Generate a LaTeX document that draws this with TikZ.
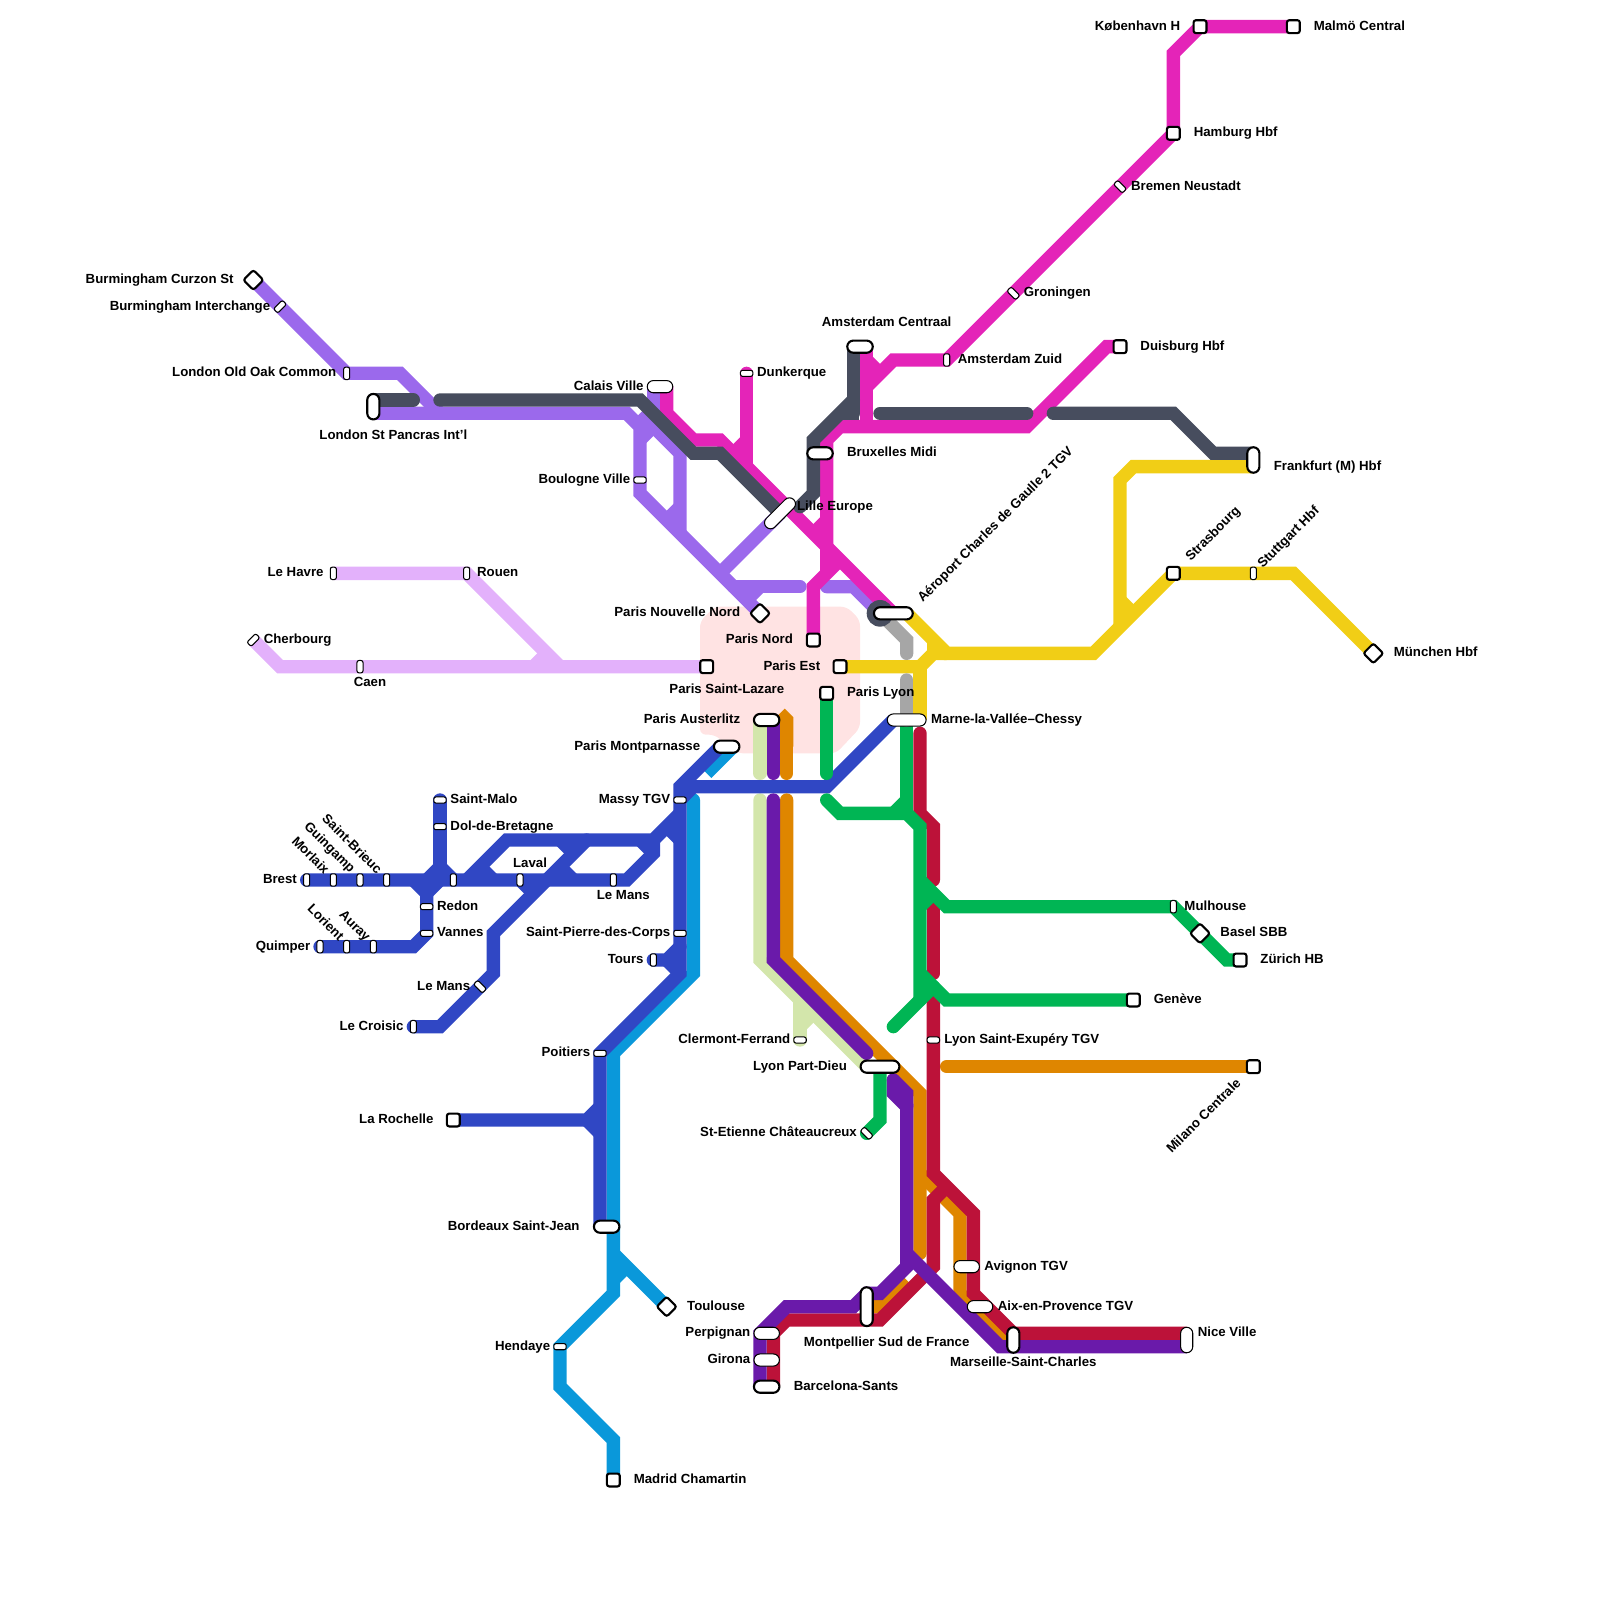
\documentclass[tikz,border=0pt]{standalone}
\usepackage{fontspec}
\setmainfont{Liberation Sans}
\usetikzlibrary{positioning}
\definecolor{trkmagenta}{HTML}{E424B8}
\definecolor{trkpurple}{HTML}{9B69EC}
\definecolor{trkslate}{HTML}{474D5E}
\definecolor{trkyellow}{HTML}{F1CE16}
\definecolor{trkgrey}{HTML}{A6A6A6}
\definecolor{trkgreen}{HTML}{00B554}
\definecolor{trkcrimson}{HTML}{BC1239}
\definecolor{trkviolet}{HTML}{6A1AAA}
\definecolor{trkorange}{HTML}{DF8600}
\definecolor{trkpale}{HTML}{D3E6AB}
\definecolor{trkblue}{HTML}{3047C4}
\definecolor{trksky}{HTML}{0A98DA}
\definecolor{trklilac}{HTML}{E3B1FB}
\definecolor{parisfill}{HTML}{FFE3E3}
\pgfdeclarelayer{tracks}
\pgfsetlayers{tracks,main}
\tikzset{
  stn/.style={rectangle, draw=black, fill=white, inner sep=0pt},
  thk/.style={line width=.9pt},
  thn/.style={line width=.45pt},
  sq/.style={stn, thk, minimum size=5.5pt, rounded corners=1pt},
  diam/.style={sq, minimum size=6pt, rotate=45},
  tickh/.style={stn, thn, minimum width=5.3pt, minimum height=2.6pt, rounded corners=.9pt},
  tickv/.style={stn, thn, minimum width=2.6pt, minimum height=5.3pt, rounded corners=.9pt},
  pill/.style 2 args={stn, minimum width=#1*5.69pt-.5pt, minimum height=#2*5.69pt-.5pt, rounded corners=2.6pt},
  lbl/.style={inner sep=0pt, text height=4.1pt, text depth=1.1pt, font=\fontsize{5.65}{6}\selectfont\bfseries},
  lblr/.style={lbl, anchor=west},
  lbll/.style={lbl, anchor=east},
  lblc/.style={lbl, anchor=center},
  track/.style={line width=5.69pt, line join=miter},
  mg/.style={track, draw=trkmagenta},
  pu/.style={track, draw=trkpurple},
  sl/.style={track, draw=trkslate},
  ye/.style={track, draw=trkyellow},
  gy/.style={track, draw=trkgrey, line cap=round},
  gn/.style={track, draw=trkgreen},
  cr/.style={track, draw=trkcrimson},
  vi/.style={track, draw=trkviolet},
  og/.style={track, draw=trkorange},
  pa/.style={track, draw=trkpale},
  bl/.style={track, draw=trkblue},
  sk/.style={track, draw=trksky},
  li/.style={track, draw=trklilac},
}
\begin{document}
\begin{tikzpicture}[x=.2cm, y=-.2cm]
\useasboundingbox (0,0) rectangle (120,120);
% north
\node[sq] (kobenhavn) at (90,2) {}; \node[lbll] (kobenhavnt) at (88.55,2) {København H};
\node[sq] (malmo) at (97,2) {}; \node[lblr] (malmot) at (98.5,2) {Malmö Central};
\node[sq] (hamburg) at (88,10) {}; \node[lblr] (hamburgt) at (89.5,10) {Hamburg Hbf};
\node[tickh, rotate=-45] (bremen) at (84,14) {}; \node[lblr] (bremend) at (84.8,14) {Bremen Neustadt};
\node[tickh, rotate=-45] (groningen) at (76,22) {}; \node[lblr] (groningent) at (76.75,22) {Groningen};
\node[tickv] (amszuid) at (71,27) {}; \node[lblr] (amszuidt) at (71.8,27) {Amsterdam Zuid};
\node[pill={2}{1}, thk] (amscentraal) at (64.5,26) {}; \node[lblc] (amscentraalt) at (66.5,24.25) {Amsterdam Centraal};
\node[sq] (duisburg) at (84,26) {}; \node[lblr] (duisburgt) at (85.5,26) {Duisburg Hbf};
\node[pill={1}{2}, thk] (frankfurt) at (94,34.5) {}; \node[lblr] (frankfurtt) at (95.5,35) {Frankfurt (M) Hbf};
\node[pill={2}{1}, thk] (bruxelles) at (61.5,34) {}; \node[lblr] (bruxellest) at (63.5,34) {Bruxelles Midi};
\node[pill={3}{1}, thn, rotate=45] (lille) at (58.5,38.5) {}; \node[lblr] (lillet) at (59.75,38) {Lille Europe};
\node[tickh] (dunkerque) at (56,28) {}; \node[lblr] (dunkerquet) at (56.75,28) {Dunkerque};
\node[pill={2}{1}, thn] (calais) at (49.5,29) {}; \node[lbll] (calaist) at (48.3,29) {Calais Ville};
\node[tickh] (boulogne) at (48,36) {}; \node[lbll] (boulognet) at (47.3,36) {Boulogne Ville};
% britain
\node[pill={1}{2}, thk] (stpancras) at (28,30.5) {}; \node[lblc] (stpancrast) at (29.5,32.7) {London St Pancras Int'l};
\node[tickv] (oldoak) at (26,28) {}; \node[lbll] (oldoakt) at (25.25,28) {London Old Oak Common};
\node[tickh, rotate=45] (interchange) at (21,23) {}; \node[lbll] (interchanget) at (20.3,23) {Burmingham Interchange};
\node[diam] (curzon) at (19,21) {}; \node[lbll] (curzont) at (17.55,21) {Burmingham Curzon St};
% normandy
\node[tickv] (lehavre) at (25,43) {}; \node[lbll] (lehavret) at (24.3,43) {Le Havre};
\node[tickv] (rouen) at (35,43) {}; \node[lblr] (rouent) at (35.75,43) {Rouen};
\node[tickh, rotate=45] (cherbourg) at (19,48) {}; \node[lblr] (cherbourgt) at (19.75,48) {Cherbourg};
\node[tickv] (caen) at (27,50) {}; \node[lblc] (caent) at (27.75,51.25) {Caen};
% paris
\node[sq] (lazare) at (53,50) {}; \node[lbll] (lazaret) at (58.85,51.75) {Paris Saint-Lazare};
\node[diam] (nouvellenord) at (57,46) {}; \node[lbll] (nouvellenordt) at (55.55,46) {Paris Nouvelle Nord};
\node[sq] (parisnord) at (61,48) {}; \node[lbll] (parisnordt) at (59.5,48) {Paris Nord};
\node[sq] (parisest) at (63,50) {}; \node[lbll] (parisestt) at (61.55,50) {Paris Est};
\node[sq] (parislyon) at (62,52) {}; \node[lblr] (parislyont) at (63.5,52) {Paris Lyon};
\node[pill={3}{1}, thk] (cdg) at (67,46) {}; \node[lblr, rotate=45] (cdgt) at (69,45.05) {Aéroport Charles de Gaulle 2 TGV};
\node[pill={3}{1}, thn] (marne) at (68,54) {}; \node[lblr] (marnet) at (69.8,54) {Marne-la-Vallée–Chessy};
\node[pill={2}{1}, thk] (austerlitz) at (57.5,54) {}; \node[lbll] (austerlitzt) at (55.55,54) {Paris Austerlitz};
\node[pill={2}{1}, thk] (montparnasse) at (54.5,56) {}; \node[lbll] (montparnasset) at (52.55,56) {Paris Montparnasse};
% west
\node[tickh] (massy) at (51,60) {}; \node[lbll] (massyt) at (50.3,60) {Massy TGV};
\node[tickh] (stpierre) at (51,70) {}; \node[lbll] (stpierret) at (50.3,70) {Saint-Pierre-des-Corps};
\node[tickv] (tours) at (49,72) {}; \node[lbll] (tourst) at (48.3,72) {Tours};
\node[tickh] (poitiers) at (45,79) {}; \node[lbll] (poitierst) at (44.3,79) {Poitiers};
\node[sq] (rochelle) at (34,84) {}; \node[lbll] (rochellet) at (32.55,84) {La Rochelle};
\node[pill={2}{1}, thk] (bordeaux) at (45.5,92) {}; \node[lbll] (bordeauxt) at (43.5,92) {Bordeaux Saint-Jean};
\node[diam] (toulouse) at (50,98) {}; \node[lblr] (toulouset) at (51.5,98) {Toulouse};
\node[tickh] (hendaye) at (42,101) {}; \node[lbll] (hendayet) at (41.3,101) {Hendaye};
\node[sq] (madrid) at (46,111) {}; \node[lblr] (madridt) at (47.5,111) {Madrid Chamartin};
% brittany
\node[tickv] (brest) at (23,66) {}; \node[lbll] (brestt) at (22.3,66) {Brest};
\node[tickv] (morlaix) at (25,66) {}; \node[lbll, rotate=-45] (morlaixt) at (24.5,65.45) {Morlaix};
\node[tickv] (guingamp) at (27,66) {}; \node[lbll, rotate=-45] (guingampt) at (26.45,65.35) {Guingamp};
\node[tickv] (stbrieuc) at (29,66) {}; \node[lbll, rotate=-45] (stbrieuct) at (28.45,65.45) {Saint-Brieuc};
\node[tickv] (stopwest) at (34,66) {};
\node[tickv] (laval) at (39,66) {}; \node[lblc] (lavalt) at (39.75,64.8) {Laval};
\node[tickv] (lemans) at (46,66) {}; \node[lblc] (lemanst) at (46.75,67.2) {Le Mans};
\node[tickh] (stmalo) at (33,60) {}; \node[lblr] (stmalot) at (33.75,60) {Saint-Malo};
\node[tickh] (dol) at (33,62) {}; \node[lblr] (dolt) at (33.75,62) {Dol-de-Bretagne};
\node[tickh] (redon) at (32,68) {}; \node[lblr] (redont) at (32.75,68) {Redon};
\node[tickh] (vannes) at (32,70) {}; \node[lblr] (vannest) at (32.75,70) {Vannes};
\node[tickv] (quimper) at (24,71) {}; \node[lbll] (quimpert) at (23.3,71) {Quimper};
\node[tickv] (lorient) at (26,71) {}; \node[lbll, rotate=-45] (lorientt) at (25.6,70.45) {Lorient};
\node[tickv] (auray) at (28,71) {}; \node[lbll, rotate=-45] (aurayt) at (27.6,70.5) {Auray};
\node[tickh, rotate=-45] (lemanssud) at (36,74) {}; \node[lbll] (lemanssudt) at (35.3,74) {Le Mans};
\node[tickv] (croisic) at (31,77) {}; \node[lbll] (croisict) at (30.3,77) {Le Croisic};
% east
\node[sq] (strasbourg) at (88,43) {}; \node[lblr, rotate=45] (strasbourgt) at (89.1,41.95) {Strasbourg};
\node[tickv] (stuttgart) at (94,43) {}; \node[lblr, rotate=45] (stuttgartt) at (94.5,42.5) {Stuttgart Hbf};
\node[diam] (munchen) at (103,49) {}; \node[lblr] (muncheng) at (104.5,49) {München Hbf};
\node[tickv] (mulhouse) at (88,68) {}; \node[lblr] (mulhouset) at (88.8,68) {Mulhouse};
\node[diam] (basel) at (90,70) {}; \node[lblr] (baselt) at (91.5,70) {Basel SBB};
\node[sq] (zurich) at (93,72) {}; \node[lblr] (zuricht) at (94.5,72) {Zürich HB};
\node[sq] (geneve) at (85,75) {}; \node[lblr] (genevet) at (86.5,75) {Genève};
\node[sq] (milano) at (94,80) {}; \node[lbll, rotate=45] (milanot) at (92.95,81.1) {Milano Centrale};
% south east
\node[tickh] (clermont) at (60,78) {}; \node[lbll] (clermontt) at (59.3,78) {Clermont-Ferrand};
\node[tickh] (exupery) at (70,78) {}; \node[lblr] (exuperyt) at (70.8,78) {Lyon Saint-Exupéry TGV};
\node[pill={3}{1}, thk] (partdieu) at (66,80) {}; \node[lbll] (partdieut) at (63.55,80) {Lyon Part-Dieu};
\node[tickh, rotate=-45] (stetienne) at (65,85) {}; \node[lbll] (stetiennet) at (64.3,85) {St-Etienne Châteaucreux};
\node[pill={2}{1}, thn] (avignon) at (72.5,95) {}; \node[lblr] (avignont) at (73.8,95) {Avignon TGV};
\node[pill={2}{1}, thn] (aix) at (73.5,98) {}; \node[lblr] (aixt) at (74.8,98) {Aix-en-Provence TGV};
\node[pill={1}{2}, thk] (marseille) at (76,100.5) {}; \node[lblc] (marseillet) at (76.75,102.2) {Marseille-Saint-Charles};
\node[pill={1}{2}, thn] (nice) at (89,100.5) {}; \node[lblr] (nicet) at (89.8,100) {Nice Ville};
\node[pill={1}{3}, thk] (montpellier) at (65,98) {}; \node[lblc] (montpelliert) at (66.5,100.75) {Montpellier Sud de France};
\node[pill={2}{1}, thn] (perpignan) at (57.5,100) {}; \node[lbll] (perpignant) at (56.3,100) {Perpignan};
\node[pill={2}{1}, thn] (girona) at (57.5,102) {}; \node[lbll] (gironat) at (56.3,102) {Girona};
\node[pill={2}{1}, thk] (barcelona) at (57.5,104) {}; \node[lblr] (barcelonat) at (59.5,104) {Barcelona-Sants};

\begin{pgfonlayer}{tracks}
\foreach \cname/\cx/\cy in {mgA/56/33, mgB/55/34, mgC/62/39, mgD/61/40, mgE/65/27, mgF/66/28, mgG/65/29, mgH/65/26, mgI/65/32, mgJ/56/35, mgK/50/29, mgL/62/43, mgM/63/42,
  puA/33/31, puB/28/31, puC/48/31, puD/51/40, puE/49/29, puF/49/32, puG/48/33, puH/51/38, puI/50/39, puJ/54/43, puK/55/44, puL/60/44, puM/57/44, puN/56/45, puO/62/44, puP/66/46,
  slA/28/30, slB/31/30, slC/33/30, slD/60/38, slE/64/26, slF/66/31, slG/77/31, slH/79/31, slI/94/34, slJ/64/31, slK/64/30, slL/63.2/31, slM/64.4/31,
  yeA/94/35, yeB/84/47, yeC/68/46, yeD/84/45, yeE/85/46, yeF/71/49, yeG/69/50, yeH/69/54, yeI/70/48, yeJ/70/49,
  gyA/66/46, gyB/68/49, gyC/68/51, gyD/68/54,
  gnA/62/58, gnB/62/60, gnC/69/75, gnD/68/54, gnE/68/61, gnF/67/61, gnG/68/60, gnH/69/66, gnI/70/67, gnJ/69/68, gnK/69/73, gnL/70/74, gnM/67/77, gnN/66/80,
  crA/69/55, crB/70/66, crC/70/68, crD/70/73, crE/70/74, crF/89/100, crG/71/89, crH/58/104,
  viA/58/54, viB/58/58, viC/58/60, viD/65/79, viE/67/81, viF/57/104, viG/68/83, viH/68/94, viI/89/101,
  ogA/58.5/53.5, ogB/59/58, ogC/59/60, ogD/69/94, ogE/69/88, ogF/75.5/100.5, ogG/65/98, ogH/68/96, ogI/71/80, ogJ/59/56,
  paA/57/54, paB/57/58, paC/57/60, paD/65/80, paE/60/75, paF/60/77, paG/61/76,
  skA/55/56, skB/53/58, skC/52/60, skD/46/94, skE/47/95, skF/46/96,
  blA/54/56, blB/67/54, blC/51/59, blD/45/92, blE/52/59, blF/51/60, blG/51/61, blH/35/66, blI/50/62, blJ/51/63, blK/49/63, blL/44/63,
  blM/36/65, blN/37/66, blO/42/63, blP/43/64, blQ/42/65, blR/43/66, blS/48/63, blT/49/64, blU/39/66, blV/40/67,
  blW/33/66, blX/32/66, blY/34/66, blZ/31/66, bmA/32/67, bmB/51/71, bmC/51/73, bmD/45/83, bmE/45/85,
  liA/42/50, liB/40/50, liC/41/49}
  \coordinate (\cname) at (\cx,\cy);
% paris area
\fill[parisfill, rounded corners=2.5pt] (52.5,46.6) -- (53.6,45.5) -- (63.5,45.5) -- (64.5,46.5) -- (64.5,54.6) -- (62.7,56.5) -- (55.3,56.5) -- (53.6,55.1) -- (52.5,55.1) -- cycle;
% lilac
\draw[li] (lehavre.center) -- (rouen.center) -- (liA);
\draw[li] (cherbourg.center) -- (21,50) -- (lazare.center);
\draw[li] (liB) -- (liC);
% pale green
\draw[pa, line cap=round] (paA) -- (paB);
\draw[pa, line cap=round] (paC) -- (57,72) -- (paD);
\draw[pa, line cap=round] (paE) -- (clermont.center);
\draw[pa] (paF) -- (paG);
% sky
\draw[sk] (skA) -- (skB);
\draw[sk, line cap=round] (skC) -- (52,73) -- (46,79) -- (46,97) -- (hendaye.center) -- (42,104) -- (46,108) -- (madrid.center);
\draw[sk] (skD) -- (toulouse.center);
\draw[sk] (skE) -- (skF);
% blue
\draw[bl] (blA) -- (blC) -- (51,73) -- (45,79) -- (blD);
\draw[bl] (blC) -- (62,59) -- (blB);
\draw[bl] (blE) -- (blF);
\draw[bl] (blG) -- (blK) -- (38,63) -- (blH);
\draw[bl] (blI) -- (blJ);
\draw[bl, line cap=round] (brest.center) -- (lemans.center) -- (47,66) -- (blT) -- (blK);
\draw[bl, line cap=round] (croisic.center) -- (33,77) -- (37,73) -- (37,70) -- (blL);
\draw[bl] (blM) -- (blN);
\draw[bl] (blO) -- (blP);
\draw[bl] (blQ) -- (blR);
\draw[bl] (blS) -- (blT);
\draw[bl] (blU) -- (blV);
\draw[bl, line cap=round] (stmalo.center) -- (blW);
\draw[bl] (blX) -- (33,65) -- (blY);
\draw[bl] (blZ) -- (bmA) -- (blW);
\draw[bl, line cap=round] (quimper.center) -- (31,71) -- (vannes.center) -- (bmA);
\draw[bl, line cap=round] (tours.center) -- (50,72) -- (bmB);
\draw[bl] (50,72) -- (bmC);
\draw[bl] (rochelle.center) -- (44,84) -- (bmD);
\draw[bl] (44,84) -- (bmE);
% orange
\draw[og] (ogA) -- (59,54) -- (ogJ);
\draw[og, line cap=round] (ogJ) -- (ogB);
\draw[og, line cap=round] (ogC) -- (59,72) -- (69,82) -- (ogD);
\draw[og] (ogE) -- (72,91) -- (72,97) -- (ogF);
\draw[og] (ogG) -- (66,98) -- (ogH);
\draw[og, line cap=round] (ogI) -- (milano.center);
% crimson
\draw[cr, line cap=round] (crA) -- (69,61) -- (70,62) -- (crB);
\draw[cr, line cap=round] (crC) -- (crD);
\draw[cr] (crE) -- (70,88) -- (73,91) -- (73,97) -- (76,100) -- (crF);
\draw[cr] (crG) -- (70,90) -- (70,95) -- (66,99) -- (59,99) -- (58,100) -- (crH);
% violet
\draw[vi, line cap=round] (viA) -- (viB);
\draw[vi, line cap=round] (viC) -- (58,72) -- (viD);
\draw[vi, line cap=round] (viE) -- (67,82) -- (viG) -- (68,95) -- (66,97) -- (65,97) -- (64,98) -- (59,98) -- (57,100) -- (viF);
\draw[vi, line cap=round] (viE) -- (68,82) -- (viG);
\draw[vi] (viH) -- (75,101) -- (viI);
% green
\draw[gn, line cap=round] (parislyon.center) -- (gnA);
\draw[gn, line cap=round] (gnB) -- (63,61) -- (gnE) -- (69,62) -- (gnC);
\draw[gn] (gnD) -- (gnE);
\draw[gn] (gnF) -- (gnG);
\draw[gn] (gnH) -- (71,68) -- (mulhouse.center) -- (basel.center) -- (92,72) -- (zurich.center);
\draw[gn] (gnI) -- (gnJ);
\draw[gn] (gnK) -- (71,75) -- (geneve.center);
\draw[gn, line cap=round] (gnL) -- (gnM);
\draw[gn, line cap=round] (stetienne.center) -- (66,84) -- (gnN);
% yellow
\draw[ye] (yeA) -- (85,35) -- (84,36) -- (yeB);
\draw[ye] (yeC) -- (yeF) -- (82,49) -- (strasbourg.center) -- (97,43) -- (munchen.center);
\draw[ye] (yeD) -- (yeE);
\draw[ye] (parisest.center) -- (yeG) -- (yeJ) -- (yeF);
\draw[ye] (yeG) -- (yeH);
\draw[ye] (yeI) -- (yeJ);
% grey
\draw[gy] (gyA) -- (68,48) -- (gyB);
\draw[gy] (gyC) -- (gyD);
% purple
\draw[pu] (curzon.center) -- (oldoak.center) -- (30,28) -- (puA);
\draw[pu] (puB) -- (47,31) -- (48,32) -- (48,37) -- (nouvellenord.center);
\draw[pu] (puC) -- (51,34) -- (puD);
\draw[pu] (puE) -- (puF);
\draw[pu] (puG) -- (puF);
\draw[pu] (puH) -- (puI);
\draw[pu] (puJ) -- (lille.center);
\draw[pu, line cap=round] (puK) -- (puL);
\draw[pu] (puM) -- (puN);
\draw[pu, line cap=round] (puO) -- (64,44) -- (puP);
% magenta
\draw[mg] (malmo.center) -- (kobenhavn.center) -- (88,4) -- (hamburg.center) -- (amszuid.center) -- (67,27) -- (mgG);
\draw[mg] (mgH) -- (mgI);
\draw[mg] (mgE) -- (mgF);
\draw[mg, line cap=round] (dunkerque.center) -- (mgJ);
\draw[mg] (mgA) -- (mgB);
\draw[mg] (mgK) -- (50,31) -- (52,33) -- (54,33) -- (cdg.center);
\draw[mg] (duisburg.center) -- (83,26) -- (77,32) -- (63,32) -- (62,33) -- (mgL);
\draw[mg] (mgC) -- (mgD);
\draw[mg] (parisnord.center) -- (61,44) -- (mgM);
% slate
\node[circle, fill=trkslate, inner sep=0pt, minimum size=11.38pt] (cdgdisc) at (66,46) {};
\draw[sl, line cap=round] (slA) -- (slB);
\draw[sl, line cap=round] (slC) -- (48,30) -- (52,34) -- (54,34) -- (lille.center);
\draw[sl, line cap=round] (slD) -- (61,37) -- (61,33) -- (slK);
\draw[sl, line cap=round] (slE) -- (slJ);
\draw[sl] (slL) -- (slM);
\draw[sl, line cap=round] (slF) -- (slG);
\draw[sl, line cap=round] (slH) -- (88,31) -- (91,34) -- (slI);
\end{pgfonlayer}
\end{tikzpicture}
\end{document}
